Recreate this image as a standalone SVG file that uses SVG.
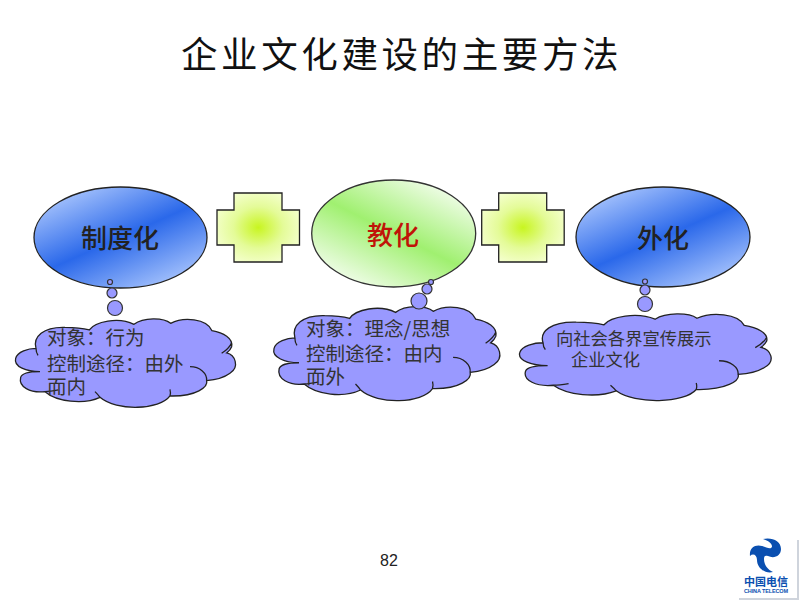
<svg xmlns="http://www.w3.org/2000/svg" width="800" height="600" viewBox="0 0 800 600">
<style>
text{font-family:"Noto Sans CJK SC","Liberation Sans",sans-serif;fill:#222}
.title{font-size:36.500px;letter-spacing:3.600px;fill:#111}
.label{font-size:26px;font-weight:500}
.cloudtext{font-size:19.500px;fill:#333}
.cloud{fill:#9999ff;stroke:#222;stroke-width:1.300}
#cloudShape{vector-effect:non-scaling-stroke}
.bub{fill:#9999ff;stroke:#333;stroke-width:1.200}
.blue{fill:url(#gBlue);stroke:#222;stroke-width:1.300}
.green{fill:url(#gGreen);stroke:#333;stroke-width:1.300}
.cross{fill:url(#gCross);stroke:#222;stroke-width:1.300}
</style>
<defs>
<linearGradient id="gBlue" x1="0.12" y1="0" x2="0.88" y2="1"><stop offset="0" stop-color="#b8d0ff"/><stop offset="0.5" stop-color="#2a68ea"/><stop offset="1" stop-color="#b8d0ff"/></linearGradient>
<linearGradient id="gGreen" x1="0.88" y1="0" x2="0.12" y2="1"><stop offset="0" stop-color="#ffffff"/><stop offset="0.5" stop-color="#a0f070"/><stop offset="1" stop-color="#ffffff"/></linearGradient>
<radialGradient id="gCross" cx="0.5" cy="0.5" r="0.55"><stop offset="0" stop-color="#c8f520"/><stop offset="0.55" stop-color="#e4fb98"/><stop offset="1" stop-color="#f4ffcc"/></radialGradient>
<path id="cloudShape" d="M108,535C98,500 130,470 195,472C225,472 250,475 268,480C285,455 355,440 402,463C430,442 490,442 512,460C550,440 620,445 636,482C670,488 700,505 695,530C692,538 685,545 680,549C705,555 720,590 690,610C670,625 645,630 620,632C625,650 590,680 510,678C480,720 350,725 300,682C250,705 170,695 135,665C90,670 55,650 62,622C65,612 85,605 120,605C80,605 40,590 47,565C52,545 85,535 108,535ZM108,535C108,542 110,550 114,556M695,518C690,530 680,540 665,550M570,590C600,590 622,610 620,632M510,678C512,670 512,665 510,658M300,682C295,675 290,670 285,665M135,665C150,665 165,662 175,660"/>
<path id="crossShape" d="M17,0H65V17H82.500V52H65V69H17V52H0V17H17Z"/>
</defs>
<text class="title" x="181" y="68">企业文化建设的主要方法</text>
<g id="node-zhidu"><ellipse class="blue" cx="120.500" cy="237.500" rx="86.500" ry="50.500"/><text class="label" x="81" y="248">制度化</text></g>
<g id="node-jiaohua"><ellipse class="green" cx="393.700" cy="233.500" rx="82" ry="53.500"/><text class="label" x="367" y="245" style="fill:#c01408">教化</text></g>
<g id="node-waihua"><ellipse class="blue" cx="663" cy="237" rx="87" ry="50"/><text class="label" x="637" y="248">外化</text></g>
<g id="node-plus1"><use href="#crossShape" class="cross" transform="translate(217 193)"/></g>
<g id="node-plus2"><use href="#crossShape" class="cross" transform="translate(481.700 193)"/></g>
<g id="node-cloud1"><use href="#cloudShape" class="cloud" transform="matrix(.3333 0 0 .3333 0 170)"/>
<text class="cloudtext"><tspan x="47" y="345">对象：行为</tspan><tspan x="47" y="371">控制途径：由外</tspan><tspan x="47" y="394">而内</tspan></text></g>
<g id="node-cloud2"><use href="#cloudShape" class="cloud" transform="matrix(.3424 0 0 .3546 257.900 148.200)"/>
<text class="cloudtext"><tspan x="306" y="336">对象：理念/思想</tspan><tspan x="306" y="361">控制途径：由内</tspan><tspan x="306" y="384">而外</tspan></text></g>
<g id="node-cloud3"><use href="#cloudShape" class="cloud" transform="matrix(.381 0 0 .327 501.900 167.800)"/>
<text class="cloudtext" style="font-size:17.300px"><tspan x="556" y="345">向社会各界宣传展示</tspan><tspan x="571" y="366">企业文化</tspan></text></g>
<g id="connectors">
<circle class="bub" cx="110" cy="282" r="2.500"/><circle class="bub" cx="112" cy="293" r="5"/><circle class="bub" cx="115" cy="308" r="7.500"/>
<circle class="bub" cx="431" cy="282" r="2.500"/><circle class="bub" cx="427" cy="289" r="5"/><circle class="bub" cx="419" cy="301" r="8"/>
<circle class="bub" cx="645" cy="281.500" r="2.500"/><circle class="bub" cx="645" cy="290" r="5"/><circle class="bub" cx="645" cy="304" r="7.500"/>
</g>
<text x="380" y="566" style="font-family:'Liberation Sans',sans-serif;font-size:16px;fill:#222">82</text>
<g id="logo">
<rect x="739" y="540" width="60" height="60" fill="#cfd4dc"/>
<rect x="737" y="538" width="60" height="60" fill="#ffffff"/>
<path d="M750,556C749,548 755,544 762,546C766,547 769,549 771,548C774,546 770,541 763,539C772,537 781,541 781,549C781,556 774,559 768,556C765,555 764,556 764,559C764,565 768,570 773,572C765,574 757,568 757,560C757,555 753,553 750,556Z" fill="#0a4fb0"/>
<text style="font-size:11px;font-weight:700;fill:#0a4fb0"><tspan x="744" y="586" textLength="44">中国电信</tspan></text>
<text x="744" y="593" style="font-family:'Liberation Sans',sans-serif;font-size:5.500px;font-weight:700;fill:#0a4fb0" textLength="44">CHINA TELECOM</text>
</g>
</svg>
